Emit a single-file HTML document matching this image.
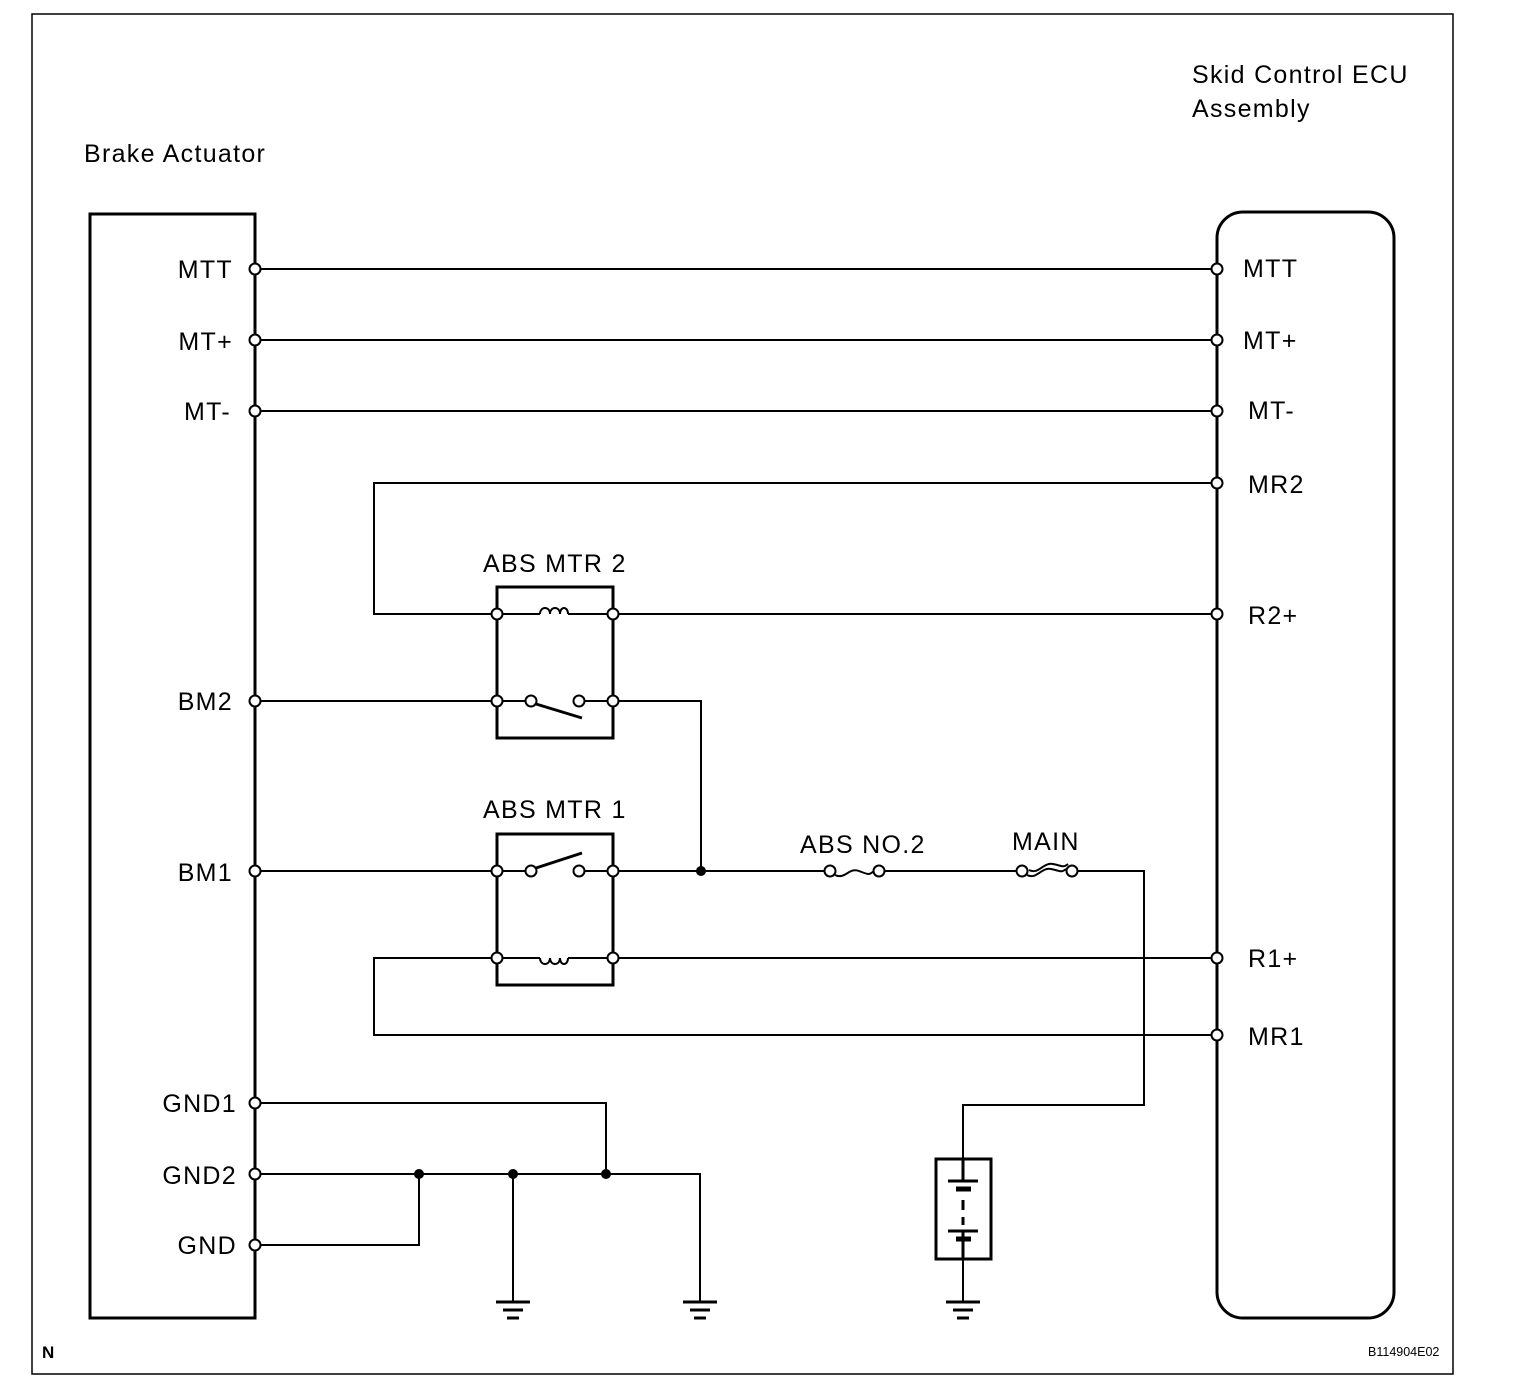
<!DOCTYPE html>
<html><head><style>body{margin:0;background:#fff}svg{display:block}text{font-family:"Liberation Sans",Arial,sans-serif;fill:#000}</style></head>
<body>
<svg width="1520" height="1394" viewBox="0 0 1520 1394" xmlns="http://www.w3.org/2000/svg">
<rect x="32" y="14" width="1421" height="1360" fill="none" stroke="#000" stroke-width="1.5"/>
<g font-size="25" letter-spacing="1.3">
<text x="84" y="162">Brake Actuator</text>
<text x="1192" y="83">Skid Control ECU</text>
<text x="1192" y="117">Assembly</text>
<text x="233" y="278" text-anchor="end">MTT</text>
<text x="233" y="350" text-anchor="end">MT+</text>
<text x="231" y="420" text-anchor="end">MT-</text>
<text x="233" y="710" text-anchor="end">BM2</text>
<text x="233" y="881" text-anchor="end">BM1</text>
<text x="237" y="1112" text-anchor="end">GND1</text>
<text x="237" y="1184" text-anchor="end">GND2</text>
<text x="237" y="1254" text-anchor="end">GND</text>
<text x="1243" y="277">MTT</text>
<text x="1243" y="349">MT+</text>
<text x="1248" y="419">MT-</text>
<text x="1248" y="493">MR2</text>
<text x="1248" y="624">R2+</text>
<text x="1248" y="967">R1+</text>
<text x="1248" y="1045">MR1</text>
<text x="483" y="572">ABS MTR 2</text>
<text x="483" y="818">ABS MTR 1</text>
<text x="800" y="853">ABS NO.2</text>
<text x="1012" y="850">MAIN</text>
</g>
<text x="42" y="1358" font-size="17" font-weight="bold">N</text>
<text x="1368" y="1356" font-size="12.5">B114904E02</text>
<g fill="none" stroke="#000">
<rect x="90" y="214" width="165" height="1104" stroke-width="3"/>
<rect x="1217" y="212" width="177" height="1106" rx="26" stroke-width="3"/>
<rect x="497" y="587" width="116" height="151" stroke-width="3"/>
<rect x="497" y="834" width="116" height="151" stroke-width="3"/>
<rect x="936" y="1159" width="55" height="100" stroke-width="3"/>
<g stroke-width="2">
<path d="M255 269H1217M255 340H1217M255 411H1217"/>
<path d="M1217 483H374V614H497M613 614H1217"/>
<path d="M1217 1035H374V958H497M613 958H1217"/>
<path d="M497 614H540M568 614H613M497 958H540M568 958H613"/>
<path d="M540 614c0-8 10-8 10 0c0-8 10-8 10 0c0-8 8-8 8 0M540 958c0 8 10 8 10 0c0 8 10 8 10 0c0 8 8 8 8 0"/>
<path d="M255 701H497M497 701H531M579 701H613M613 701H701V871"/>
<path d="M255 871H497M497 871H531M579 871H613M613 871H830M879 871H1022M1072 871H1144V1105H963V1159M963 1259V1302"/>
<path d="M835 875c10 5 14-8 24-4s10 4 15 0M1027 875c10 5 14-8 24-6s10 4 15 0M1029 870c10 5 14-8 24-6s10 4 15 0"/>
<path d="M255 1103H606V1174M255 1174H700V1302M255 1245H419V1174M513 1174V1302"/>
</g>
<path d="M536 704L582 718M536 868L582 853" stroke-width="3"/>
<path d="M963 1159V1181M963 1200V1210M963 1217V1225M963 1232V1240M963 1240V1259" stroke-width="3"/>
</g>
<g stroke="#000" stroke-width="3">
<path d="M948 1181H978M948 1231H978"/>
<path d="M956 1189H971M956 1239H971" stroke-width="5"/>
<path d="M496 1302H530M503 1310H523M507 1318H519M683 1302H717M690 1310H710M694 1318H706M946 1302H980M953 1310H973M957 1318H969"/>
</g>
<g fill="#fff" stroke="#000" stroke-width="2">
<circle cx="255" cy="269" r="5.5"/><circle cx="255" cy="340" r="5.5"/><circle cx="255" cy="411" r="5.5"/>
<circle cx="255" cy="701" r="5.5"/><circle cx="255" cy="871" r="5.5"/><circle cx="255" cy="1103" r="5.5"/>
<circle cx="255" cy="1174" r="5.5"/><circle cx="255" cy="1245" r="5.5"/>
<circle cx="1217" cy="269" r="5.5"/><circle cx="1217" cy="340" r="5.5"/><circle cx="1217" cy="411" r="5.5"/>
<circle cx="1217" cy="483" r="5.5"/><circle cx="1217" cy="614" r="5.5"/><circle cx="1217" cy="958" r="5.5"/><circle cx="1217" cy="1035" r="5.5"/>
<circle cx="497" cy="614" r="5.5"/><circle cx="613" cy="614" r="5.5"/><circle cx="497" cy="701" r="5.5"/><circle cx="613" cy="701" r="5.5"/>
<circle cx="531" cy="701" r="5.5"/><circle cx="579" cy="701" r="5.5"/>
<circle cx="497" cy="871" r="5.5"/><circle cx="613" cy="871" r="5.5"/><circle cx="531" cy="871" r="5.5"/><circle cx="579" cy="871" r="5.5"/>
<circle cx="497" cy="958" r="5.5"/><circle cx="613" cy="958" r="5.5"/>
<circle cx="830" cy="871" r="5.5"/><circle cx="879" cy="871" r="5.5"/><circle cx="1022" cy="871" r="5.5"/><circle cx="1072" cy="871" r="5.5"/>
</g>
<g fill="#000">
<circle cx="701" cy="871" r="5"/><circle cx="419" cy="1174" r="5"/><circle cx="513" cy="1174" r="5"/><circle cx="606" cy="1174" r="5"/>
</g>
</svg>
</body></html>
